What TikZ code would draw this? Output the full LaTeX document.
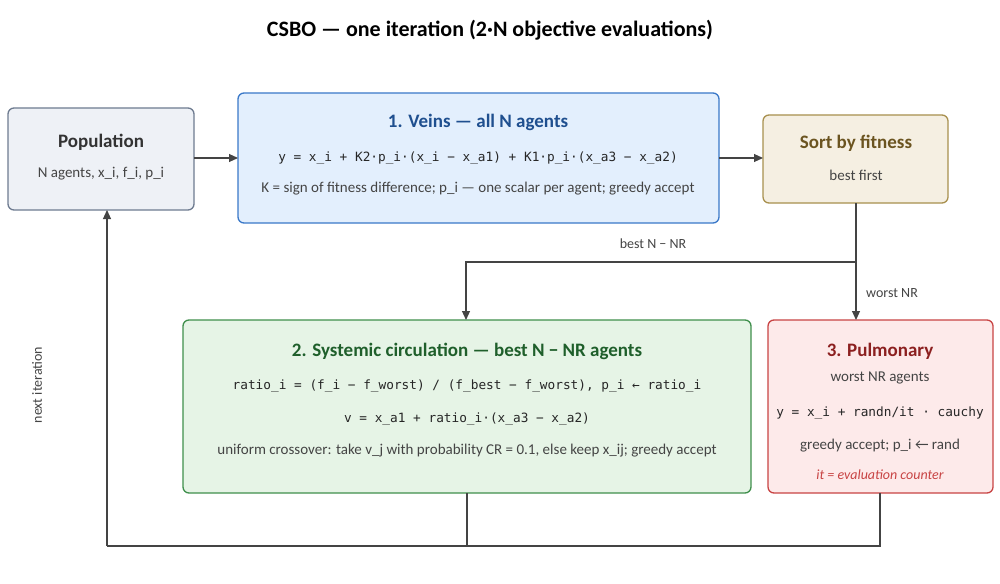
\documentclass[tikz,border=0pt]{standalone}
\usepackage{fontspec}
\setmainfont{Carlito}
\newfontfamily\mymono{DejaVu Sans Mono}[Scale=0.88]
\usetikzlibrary{arrows.meta}
\definecolor{txt}{HTML}{444444}
\definecolor{ln}{HTML}{444444}
\definecolor{pF}{HTML}{EEF1F6}\definecolor{pD}{HTML}{6E7B90}
\definecolor{vF}{HTML}{E3EFFD}\definecolor{vD}{HTML}{3A78C8}\definecolor{vT}{HTML}{1F4F8F}
\definecolor{sF}{HTML}{F5EFE2}\definecolor{sD}{HTML}{A8904E}\definecolor{sT}{HTML}{6B5420}
\definecolor{gF}{HTML}{E6F4E6}\definecolor{gD}{HTML}{3F8F4C}\definecolor{gT}{HTML}{1F5F2B}
\definecolor{rF}{HTML}{FDEAEA}\definecolor{rD}{HTML}{C84444}\definecolor{rT}{HTML}{8C2020}
\begin{document}
\begin{tikzpicture}[x=1pt,y=-1pt,
 box/.style={draw,rounded corners=6pt,line width=1.3pt,inner sep=0pt},
 ttl/.style={font=\bfseries\fontsize{19}{21}\selectfont,anchor=center},
 bd/.style={font=\fontsize{15}{17}\selectfont,text=txt,anchor=center},
 mo/.style={font=\fontsize{14.5}{16}\selectfont\mymono,text=black!85,anchor=center},
 con/.style={draw=ln,line width=1.1pt},
 arr/.style={con,-{Triangle[length=9pt,width=8pt]}},
 lab/.style={font=\fontsize{14}{16}\selectfont,text=txt}]
\useasboundingbox (0,0) rectangle (1000,583);
\node[font=\bfseries\fontsize{22}{24}\selectfont] (title) at (490,30) {CSBO — one iteration (2·N objective evaluations)};
% boxes
\path[box,draw=pD,fill=pF] (8,108) rectangle (194,210);
\coordinate (popE) at (194,158); \coordinate (popS) at (107,210);
\node[ttl,text=black!80] (pt) at (101,142) {Population};
\node[bd] (pb) at (101,174) {N agents, x\_i, f\_i, p\_i};
\path[box,draw=vD,fill=vF] (238,93) rectangle (719,223);
\coordinate (vW) at (238,158); \coordinate (vE) at (719,158);
\node[ttl,text=vT] (vt) at (478,122) {1. Veins — all N agents};
\node[mo] (vm) at (478,158) {y = x\_i + K2·p\_i·(x\_i − x\_a1) + K1·p\_i·(x\_a3 − x\_a2)};
\node[bd] (vb) at (478,189) {K = sign of fitness difference; p\_i — one scalar per agent; greedy accept};
\path[box,draw=sD,fill=sF] (763,115) rectangle (948,203);
\coordinate (sW) at (763,158); \coordinate (sS) at (856,203);
\node[ttl,text=sT] (st) at (856,143) {Sort by fitness};
\node[bd] (sb) at (856,175) {best first};
\path[box,draw=gD,fill=gF] (183,320) rectangle (751,493);
\coordinate (gN) at (466,320); \coordinate (gS) at (467,493);
\node[ttl,text=gT] (gt) at (467,351) {2. Systemic circulation — best N − NR agents};
\node[mo] (g1) at (467,386) {ratio\_i = (f\_i − f\_worst) / (f\_best − f\_worst), p\_i ← ratio\_i};
\node[mo] (g2) at (467,419) {v = x\_a1 + ratio\_i·(x\_a3 − x\_a2)};
\node[bd] (g3) at (467,451) {uniform crossover: take v\_j with probability CR = 0.1, else keep x\_ij; greedy accept};
\path[box,draw=rD,fill=rF] (768,320) rectangle (993,493);
\coordinate (rN) at (856,320); \coordinate (rS) at (880,493);
\node[ttl,text=rT] (rt) at (880,351) {3. Pulmonary};
\node[bd] (r1) at (880,378) {worst NR agents};
\node[mo] (r2) at (880,413) {y = x\_i + randn/it · cauchy};
\node[bd] (r3) at (880,446) {greedy accept; p\_i ← rand};
\node[bd,text=rD,font=\itshape\fontsize{14}{16}\selectfont] (r4) at (880,475) {it = evaluation counter};
% connectors
\draw[arr] (popE) -- (vW);
\draw[arr] (vE) -- (sW);
\coordinate (j) at (856,262);
\draw[arr] (sS) -- (rN);
\draw[arr] (j) -- (466,262) -- (gN);
\node[lab] (l1) at (653,244) {best N − NR};
\node[lab] (l2) at (892,293) {worst NR};
\coordinate (b1) at (467,546); \coordinate (b2) at (880,546); \coordinate (b0) at (107,546);
\draw[con] (gS) -- (b1);
\draw[con] (rS) -- (b2) -- (b0);
\draw[arr] (b0) -- (popS);
\node[lab,rotate=90] (l3) at (37,385) {next iteration};
\end{tikzpicture}
\end{document}
